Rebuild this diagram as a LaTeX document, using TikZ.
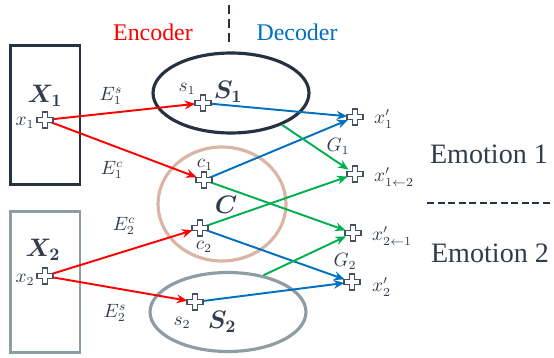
\documentclass[tikz,border=0pt]{standalone}
\usepackage{fontspec}
\setmainfont{Liberation Serif}
\usepackage{amsmath}
\usepackage{bm}
\usepackage{tikz}
\usetikzlibrary{shapes.geometric, arrows.meta, positioning}
\definecolor{mydark}{RGB}{38,50,66}
\definecolor{myred}{RGB}{255,0,0}
\definecolor{myblue}{RGB}{0,112,192}
\definecolor{mygreen}{RGB}{0,176,80}
\definecolor{mysalmon}{RGB}{218,180,164}
\definecolor{mygray}{RGB}{140,158,163}
\definecolor{mytext}{RGB}{50,60,76}
\tikzset{
  inbox/.style={rectangle, minimum width=1.4cm, minimum height=2.8cm,
    line width=1.7pt, inner sep=0pt},
  latent/.style={ellipse, inner sep=0pt, line width=1.8pt},
  hub/.style={circle, minimum size=0.3cm, inner sep=0pt},
  plusline/.style={draw=mydark!85, fill=white, line width=0.7pt},
  redarrow/.style={-{Stealth[length=6pt, width=5pt]}, line width=1.1pt, color=myred},
  bluearrow/.style={-{Stealth[length=6pt, width=5pt]}, line width=1.1pt, color=myblue},
  greenarrow/.style={-{Stealth[length=6pt, width=5pt]}, line width=1.1pt, color=mygreen},
  head/.style={font=\fontsize{13.6}{16}\selectfont},
  emo/.style={font=\fontsize{16}{19}\selectfont, text=mytext},
  lbl/.style={font=\fontsize{10.5}{12}\selectfont, text=mytext, inner sep=1pt},
  big/.style={font=\fontsize{14}{16}\selectfont, text=mytext, inner sep=1pt}
}

\begin{document}
\begin{tikzpicture}[x=0.02cm, y=-0.02cm]
  \useasboundingbox (0,0) rectangle (554,358);

  % encoder / decoder split
  \draw[mydark, line width=1pt, dash pattern=on 5pt off 3pt] (229,5) -- (229,45);
  \node[head, text=myred] (enc) at (153,32) {Encoder};
  \node[head, text=myblue] (dec) at (297,32) {Decoder};

  % input boxes
  \node[inbox, draw=mydark] (X1) at (45,115) {};
  \node[inbox, draw=mygray, minimum height=2.82cm] (X2) at (45,282) {};

  % latent spaces
  \node[latent, draw=mydark, minimum width=3.12cm, minimum height=1.6cm] (S1) at (231,93) {};
  \node[latent, draw=mysalmon, minimum width=2.56cm, minimum height=2.28cm] (C) at (222,204) {};
  \node[latent, draw=mygray, minimum width=3.12cm, minimum height=1.58cm] (S2) at (228,312) {};

  % points
  \node[hub] (x1) at (45,120) {};
  \node[hub] (x2) at (45,276) {};
  \node[hub] (s1) at (203,103) {};
  \node[hub] (c1) at (204,180) {};
  \node[hub] (c2) at (200,228) {};
  \node[hub] (s2) at (195,302) {};
  \node[hub] (o1) at (355,117) {};
  \node[hub] (o12) at (355,174) {};
  \node[hub] (o21) at (353,233) {};
  \node[hub] (o2) at (352,282) {};

  % encoder
  \draw[redarrow] (x1.center) -- (s1);
  \draw[redarrow] (x1.center) -- (c1);
  \draw[redarrow] (x2.center) -- (c2);
  \draw[redarrow] (x2.center) -- (s2);

  % decoder
  \draw[bluearrow] (s1.center) -- (o1);
  \draw[bluearrow] (c1.center) -- (o1);
  \draw[bluearrow] (c2.center) -- (o2);
  \draw[bluearrow] (s2.center) -- (o2);
  \draw[greenarrow] (S1.-32) -- (o12);
  \draw[greenarrow] (c2.center) -- (o12);
  \draw[greenarrow] (c1.center) -- (o21);
  \draw[greenarrow] (S2.46) -- (o21);

  % plus marks
  \foreach \p in {x1,x2,s1,c1,c2,s2,o1,o12,o21,o2}
    \draw[plusline, shift={(\p)}] (-2.6,-8) -- (2.6,-8) -- (2.6,-2.6) -- (8,-2.6)
      -- (8,2.6) -- (2.6,2.6) -- (2.6,8) -- (-2.6,8) -- (-2.6,2.6) -- (-8,2.6)
      -- (-8,-2.6) -- (-2.6,-2.6) -- cycle;

  % labels
  \node[big] (X1lbl) at (45,96) {$\bm{X_1}$};
  \node[big] (X2lbl) at (43,250) {$\bm{X_2}$};
  \node[big] (S1lbl) at (228,92) {$\bm{S_1}$};
  \node[big] (Clbl) at (226,205) {$\bm{C}$};
  \node[big] (S2lbl) at (222,322) {$\bm{S_2}$};
  \node[lbl] (x1lbl) at (25,123) {$x_1$};
  \node[lbl] (x2lbl) at (25,280) {$x_2$};
  \node[lbl] (s1lbl) at (187,89) {$s_1$};
  \node[lbl] (c1lbl) at (205,165) {$c_1$};
  \node[lbl] (c2lbl) at (204,247) {$c_2$};
  \node[lbl] (s2lbl) at (182,323) {$s_2$};
  \node[lbl] (E1s) at (111,96) {$E_1^s$};
  \node[lbl] (E1c) at (112,170) {$E_1^c$};
  \node[lbl] (E2c) at (124,226) {$E_2^c$};
  \node[lbl] (E2s) at (115,313) {$E_2^s$};
  \node[lbl] (G1) at (338,146) {$G_1$};
  \node[lbl] (G2) at (345,261) {$G_2$};
  \node[lbl, anchor=west] (o1lbl) at (372,119) {$x_1'$};
  \node[lbl, anchor=west] (o12lbl) at (372,177) {$x_{1\leftarrow 2}'$};
  \node[lbl, anchor=west] (o21lbl) at (370,236) {$x_{2\leftarrow 1}'$};
  \node[lbl, anchor=west] (o2lbl) at (370,287) {$x_2'$};

  % emotions
  \node[emo] (emo1) at (489,154) {Emotion 1};
  \node[emo] (emo2) at (490,253) {Emotion 2};
  \draw[mydark, line width=0.8pt, dash pattern=on 4pt off 2pt] (427,203) -- (554,203);
\end{tikzpicture}
\end{document}
